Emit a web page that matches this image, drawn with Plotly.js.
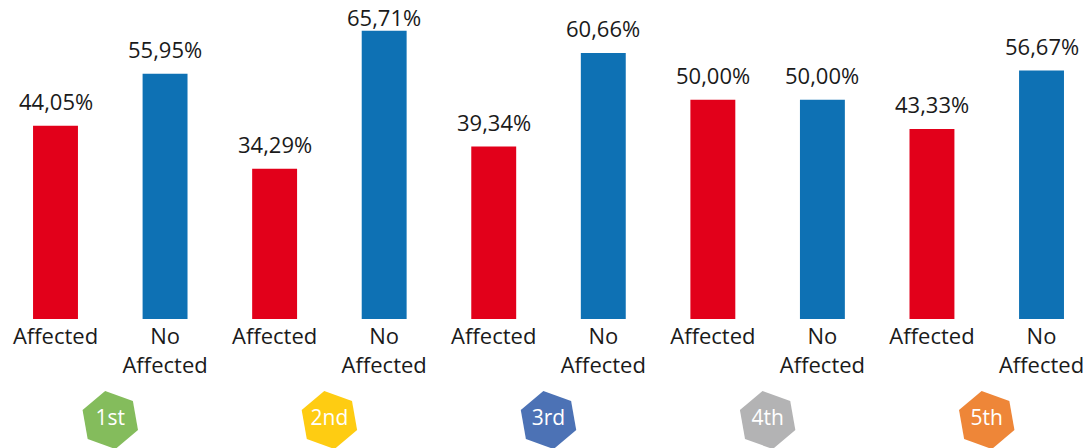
<!DOCTYPE html>
<html>
<head>
<meta charset="utf-8">
<script src="https://cdn.plot.ly/plotly-3.0.1.min.js"></script>
<style>
  html, body { margin: 0; padding: 0; background: #ffffff; }
  #chart { width: 1086px; height: 448px; }
</style>
</head>
<body>
<div id="chart"></div>
<script>
// Quintile groups and the share of households in each outcome
const quintiles = ['1st', '2nd', '3rd', '4th', '5th'];
const affected = [44.05, 34.29, 39.34, 50.00, 43.33];
const notAffected = [55.95, 65.71, 60.66, 50.00, 56.67];
const outcomeLabels = ['Affected', 'No<br>Affected'];

const quintileColors = ['#84bc5c', '#fecc12', '#4c72b5', '#b3b3b4', '#ee8638'];
const RED = '#e2001a';
const BLUE = '#0e71b4';
const TEXT = '#1a1a1a';
const FONT = '"Open Sans", "Noto Sans", sans-serif';

const fmt = v => v.toFixed(2).replace('.', ',') + '%';

// Each quintile occupies two slots on the x axis: affected, then not affected
const xAff = quintiles.map((q, i) => 2 * i);
const xNot = quintiles.map((q, i) => 2 * i + 1);
const xMid = quintiles.map((q, i) => 2 * i + 0.5);

const tickvals = [];
const ticktext = [];
quintiles.forEach((q, i) => {
  tickvals.push(2 * i, 2 * i + 1);
  ticktext.push(outcomeLabels[0], outcomeLabels[1]);
});

const WIDTH = 1086, HEIGHT = 448;
const BOTTOM_BAND = 129;               // room under the bars for labels and badges
const PLOT_H = HEIGHT - BOTTOM_BAND;
const Y_MAX = 72.75;
const barWidth = 0.41;

const traces = [
  {
    type: 'bar', x: xAff, y: affected, width: barWidth,
    marker: { color: RED }, name: 'Affected', hoverinfo: 'skip'
  },
  {
    type: 'bar', x: xNot, y: notAffected, width: barWidth,
    marker: { color: BLUE }, name: 'No Affected', hoverinfo: 'skip'
  },
  {
    type: 'scatter', mode: 'markers+text', x: xMid, y: quintiles.map(() => 0),
    yaxis: 'y2', text: quintiles, textposition: 'middle center',
    textfont: { family: FONT, size: 21, color: '#ffffff' },
    marker: { symbol: 'hexagon', size: 59, angle: -10, color: quintileColors, line: { width: 0 } },
    cliponaxis: false, hoverinfo: 'skip'
  }
];

// Percentage labels above each bar; a label that would run off the top
// edge is pulled down to sit just over its bar.
const annotations = [];
[[xAff, affected], [xNot, notAffected]].forEach(([xs, vals]) => {
  vals.forEach((v, i) => {
    const barTopPx = PLOT_H - v * PLOT_H / Y_MAX;
    annotations.push({
      x: xs[i], y: v, xref: 'x', yref: 'y', text: fmt(v),
      showarrow: false, yanchor: 'bottom', yshift: Math.min(8, barTopPx - 34),
      font: { family: FONT, size: 22, color: TEXT }
    });
  });
});

const bottomShare = BOTTOM_BAND / HEIGHT;

const layout = {
  width: WIDTH, height: HEIGHT,
  margin: { l: 0, r: 0, t: 0, b: 0 },
  paper_bgcolor: '#ffffff', plot_bgcolor: '#ffffff',
  showlegend: false,
  font: { family: FONT, color: TEXT },
  xaxis: {
    range: [-0.5066, 9.406], tickvals: tickvals, ticktext: ticktext,
    tickfont: { family: FONT, size: 22, color: TEXT },
    ticklabelstandoff: 2,
    showgrid: false, zeroline: false, showline: false, ticks: '',
    fixedrange: true
  },
  yaxis: {
    domain: [bottomShare, 1], range: [0, Y_MAX], visible: false, fixedrange: true
  },
  yaxis2: {
    domain: [0, bottomShare], range: [-28 / 129, 1 - 28 / 129], visible: false, fixedrange: true
  },
  annotations: annotations
};

Plotly.newPlot('chart', traces, layout, { displayModeBar: false, staticPlot: true });
</script>
</body>
</html>
